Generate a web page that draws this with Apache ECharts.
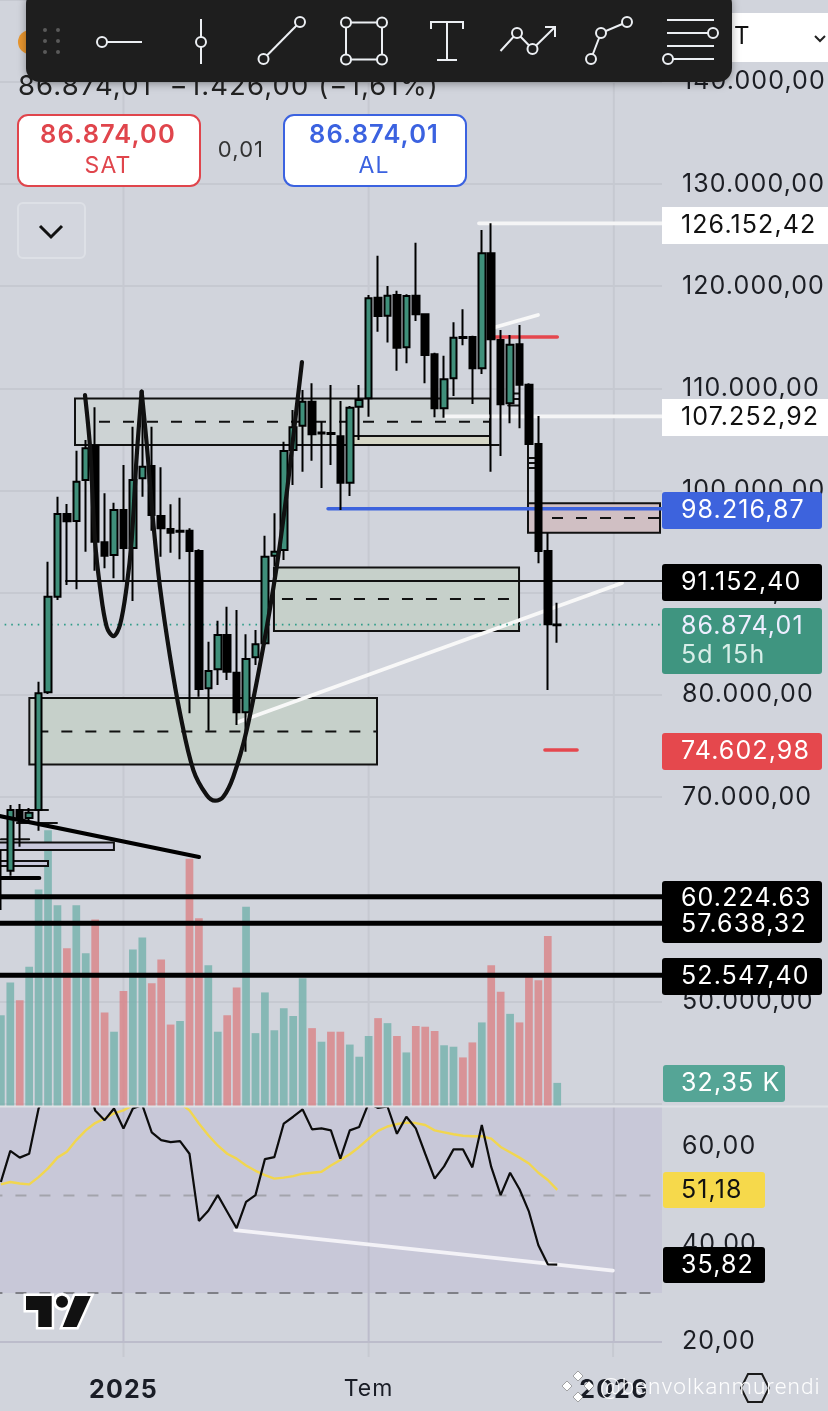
<!DOCTYPE html>
<html><head><meta charset="utf-8">
<style>html,body{margin:0;padding:0;background:#d1d4dc}#c{width:828px;height:1411px}</style>
<script src="https://cdn.jsdelivr.net/npm/echarts@6/dist/echarts.min.js"></script>
</head><body><div id="c"></div>
<script>
// the reference font runs wider than any installed one: add tracking when drawing text
(function(){const P=CanvasRenderingContext2D.prototype,f=P.fillText,s=P.strokeText;
 P.fillText=function(){this.letterSpacing='1.1px';return f.apply(this,arguments);};
 P.strokeText=function(){this.letterSpacing='1.1px';return s.apply(this,arguments);};})();

// ---- candles [open, close, low, high], weekly
const candles = [
[62000,62100,58938,64812],[62786,68727,62300,69217],[68727,67817,65136,69314],[67945,68464,67681,68923],
[68727,80150,66701,81285],[80248,89605,80081,93031],[89605,97700,89282,99393],[97700,96985,90750,98678],
[97015,100861,90329,103895],[101028,104130,94010,104943],[104385,94988,92150,108140],[94930,93618,92384,99726],
[93686,98091,91407,98806],[98091,94380,91073,102496],[94380,101028,89184,106245],[101194,102329,99393,107880],
[102398,97602,96065,106245],[97504,96300,93520,102270],[96232,95869,93912,98649],[95967,96065,93270,99295],
[96065,94078,78192,96300],[94078,80570,79817,94245],[80640,82333,76489,85200],[82500,85856,80962,87255],
[85856,82265,81452,88626],[82167,78290,77047,88303],[78290,83507,74434,85924],[83674,84946,82920,86346],
[85043,93520,84876,95576],[93618,94010,92610,97768],[94176,103866,93198,104776],[103964,106186,100538,107880],
[106343,108692,101840,109837],[108692,105500,102917,110492],[105578,105676,100245,106734],[105626,105528,102496,110326],
[105310,100763,98091,108760],[100763,108104,99462,108271],[108202,108858,104943,110326],[109024,118812,107223,119135],
[118871,117080,115543,122983],[117110,119067,114486,120017],[119135,113978,111726,119556],[114017,119038,112448,119200],
[119067,117246,116590,124254],[117246,113262,110492,117344],[113331,108046,107165,113488],[108046,110884,107125,113194],
[110982,114956,109250,116463],[115024,114926,114212,117736],[115024,111961,108466,115151],[111961,123217,111402,125498],
[123217,114799,101840,126152],[114730,108437,103378,115710],[108535,114270,106578,115221],[114310,110355,106087,116198],
[110355,104552,104552,110492],[104552,94078,92873,107292],[94078,86900,80472,95840],[86800,86874,85103,89019]
];
const volumes = [127,173,148,195,303,386,281,221,281,214,261,131,104,161,219,236,172,205,114,119,346,263,197,104,127,166,279,102,159,106,137,126,179,109,90,104,104,86,69,98,123,116,98,75,112,111,105,85,83,68,89,117,197,160,129,117,186,176,238,32.35];
const rsi = [52.8,59.2,57.8,58.6,67.9,72,73,71,72,74,67.5,65.5,67.9,63.8,67.9,68.6,63,61.4,61,61.2,58.6,44.8,46.9,50.1,46.7,43.3,48.7,50.1,57.5,57.9,64.8,66.2,67.7,63.6,63.8,63.4,57.6,63.4,64.1,69,68,68.3,62.7,66.2,63.8,58.6,53.5,56,59.5,59.5,55.8,64.5,55.9,50.1,54.7,51.3,46.7,39.8,35.9,35.82];
const rsiMA = [52.3,52.8,52.5,52.3,53.8,55.6,57.8,59,61.4,63.4,64.9,65.8,66.9,67.5,68.6,69.5,70,70.5,70,69,67.5,64.8,62.4,60.3,58.6,57.6,56.2,55.1,54.2,53.5,53.7,54,54.5,54.7,54.9,56.2,57.3,58.5,60,61.7,63.3,64.2,64.7,65,64.9,64.5,63.4,63,62.6,62.3,62.2,62.2,61.7,60,58.9,57.8,56.6,54.7,53.2,51.18];
const monthBars = [13,39,65];
const monthLabels = {13:'2025',39:'Tem',65:'2026'};

// ---- drawings on the chart: [fromBar, toBar, top, bottom, mid]
const greenZones = [[7.86,51.87,109004,104454,106729],[28.96,54.95,92463,86248,89380],[3.02,39.89,79690,73182,76412]];
const tanZone = [[37.34,51.87,105334,104454]];
const redZone = [[55.9,69.9,98747,95870,97307]];
const smallZones = [[-1,11.99,65546,64812],[-1,5,63733,63244]];
// ---- level lines [fromBar, price, toBar, price]
const thinLines = [[6.9,91152.4,71,91152.4],[51.87,104454,52.8,104454],[1.7,68727,5,68727],[1.7,67455,5.95,67455],[0,65860,3,65860],
 [55.9,104552,55.9,98747],[53.8,109500,54.95,109500],[53.8,108950,54.95,108950],[53.8,108330,54.95,108330],[55.9,103190,56.6,103190],[55.9,102700,56.6,102700],[55.9,102200,56.6,102200]];
const heavyLevels = [60224.63,57638.32,52547.40];
const whiteLines = [[50.7,126152.42,71,126152.42],[47.1,107252.92,71,107252.92],[25.15,77341,65.87,90946],[52.4,115980,56.96,117178]];
const redLines = [[52.4,115024,59,115024],[57.7,74602.98,61.1,74602.98]];
const blueLine = [34.7,98216.87,71,98216.87];
const lastPrice = 86874.01;
const blackTrend = [[-1,68300,21.01,64127],[-1,62069,4.08,62069]];
const curveLeft = [[8.92,109348],[9.45,104290],[9.98,95154],[10.51,90585],[11.22,86670],[11.93,85756],[12.63,86833],[13.34,90585],[13.87,95154],[14.4,103311],[14.93,109674]];
const curveRight = [[14.93,109674],[15.46,104618],[16.17,96785],[16.87,90585],[17.94,83733],[19,78186],[20.41,72639],[21.82,70192],[22.71,69637],[23.59,70028],[24.65,71986],[26.07,76554],[27.83,84712],[29.25,92543],[30.31,99722],[31.01,105269],[31.93,112578]];
const rsiTrend = [[24.83,42.9],[64.9,34.6]];

// ---- text
const priceHeader = '86.874,01  \u22121.426,00 (\u22121,61%)';
const sellPrice='86.874,00', buyPrice='86.874,01', spread='0,01';
const FONT='Inter', BG='#d1d4dc';
const fmtTick = v => (v/1000).toFixed(0)+'.000,00';
const XMIN=-0.0923, XMAX=70.11;

function linePairs(list){const out=[];list.forEach((s,i)=>{out.push([s[0],s[1]],[s[2],s[3]]);if(i<list.length-1)out.push([null,null]);});return out;}
function seg(data,color,width,z,extra){return Object.assign({type:'line',xAxisIndex:0,yAxisIndex:0,data,symbol:'none',silent:true,z,connectNulls:false,animation:false,
  lineStyle:{color,width,cap:'round'}},extra||{});}
function zones(data,fill,opts){opts=opts||{};return {type:'custom',xAxisIndex:0,yAxisIndex:0,z:opts.z||2,silent:true,animation:false,clip:true,
  encode:{x:[0,1],y:[2,3]},data,
  renderItem(p,api){
    const a=api.coord([api.value(0),api.value(2)]),b=api.coord([api.value(1),api.value(3)]);
    const kids=[{type:'rect',shape:{x:a[0],y:a[1],width:b[0]-a[0],height:b[1]-a[1]},style:{fill,stroke:'#111',lineWidth:opts.lw||2}}];
    if(opts.mid){const m=api.coord([api.value(0),api.value(4)]);
      kids.push({type:'line',shape:{x1:a[0]+(opts.midInset||8),y1:m[1],x2:b[0],y2:m[1]},style:{stroke:'#111',lineWidth:2,lineDash:[11,13]}});}
    return {type:'group',children:kids};
  }};}

const series=[
 {type:'bar',xAxisIndex:1,yAxisIndex:1,barWidth:7.7,z:1,silent:true,animation:false,
  data:volumes.map((v,i)=>({value:[i,v],itemStyle:{color:candles[i][1]>=candles[i][0]?'rgba(113,176,170,0.78)':'rgba(218,128,132,0.78)'}}))},
 seg([[13,40000],[13,150000],[null,null],[39,40000],[39,150000],[null,null],[65,40000],[65,150000]],'#c6c9d1',2,0),
 zones(greenZones.slice(0,1),'#cdd3d4',{mid:true,midInset:24}),
 zones(greenZones.slice(1),'#c6d0ca',{mid:true,midInset:8}),
 zones(tanZone,'#d5d6c6'),
 zones(redZone,'#d0bfc3',{mid:true,midInset:24}),
 zones(smallZones,'#c9c9dc'),
 seg(linePairs([whiteLines[0],whiteLines[1]]),'#f5f5f6',3.8,3),
 seg(linePairs([whiteLines[2],whiteLines[3]]),'#f8f8f8',3.8,3),
 seg(linePairs(redLines),'#e5474e',3.6,3),
 seg(linePairs([blueLine]),'#3d63dd',3.6,3),
 seg(linePairs(thinLines),'#111',2,3),
 seg([[-1,lastPrice],[71,lastPrice]],'#2e9c88',1.6,3,{lineStyle:{color:'#2e9c88',width:1.6,type:[1.6,5]}}),
 {type:'candlestick',xAxisIndex:0,yAxisIndex:0,barWidth:7,z:5,silent:true,animation:false,
  encode:{x:0,y:[1,2,3,4]},data:candles.map((c,i)=>[i].concat(c)),
  itemStyle:{color:'#3f8f7a',color0:'#000',borderColor:'#000',borderColor0:'#000',borderWidth:2}},
 seg(linePairs(heavyLevels.map(v=>[-1,v,71,v])),'#000',5,6,{lineStyle:{color:'#000',width:5,cap:'butt'}}),
 seg(linePairs(blackTrend),'#000',4,6),
 seg(curveLeft,'#111',4.2,7,{smooth:0.35}),
 seg(curveRight,'#111',4.2,7,{smooth:0.35}),
 // RSI
 {type:'line',xAxisIndex:2,yAxisIndex:2,data:[[-1,30],[-1,30]],symbol:'none',silent:true,animation:false,lineStyle:{width:0},z:1,
  markArea:{silent:true,animation:false,itemStyle:{color:'#c8c8d8'},data:[[{coord:[-1,30]},{coord:[71,68.2]}]]}},
 seg([[13,20],[13,68.2],[null,null],[39,20],[39,68.2],[null,null],[65,20],[65,68.2]],'#bcbccb',2,2,{xAxisIndex:2,yAxisIndex:2}),
 seg([[-1,50],[71,50]],'#a3a4ac',2,2,{xAxisIndex:2,yAxisIndex:2,lineStyle:{color:'#a3a4ac',width:2,type:[11,13]}}),
 seg([[-1,30],[71,30]],'#7f8087',2,2,{xAxisIndex:2,yAxisIndex:2,lineStyle:{color:'#7f8087',width:2,type:[11,13]}}),
 {type:'line',xAxisIndex:2,yAxisIndex:2,data:rsiMA.map((v,i)=>[i,v]),symbol:'none',silent:true,animation:false,z:3,lineStyle:{color:'#f1d64f',width:2.4}},
 seg(rsiTrend,'#f3f2f7',3.8,3,{xAxisIndex:2,yAxisIndex:2}),
 {type:'line',xAxisIndex:2,yAxisIndex:2,data:rsi.map((v,i)=>[i,v]),symbol:'none',silent:true,animation:false,z:4,lineStyle:{color:'#0c0c0c',width:2.2}}
];

const G=[];
const rect=(x,y,w,h,fill,r,stroke,lw,z)=>G.push({type:'rect',z:z||100,shape:{x,y,width:w,height:h,r:r||0},style:{fill,stroke:stroke||null,lineWidth:lw||0}});
const text=(x,y,t,o)=>G.push({type:'text',z:(o&&o.z)||101,x,y,style:Object.assign({text:t,fill:'#111',font:'400 25px '+FONT,textAlign:'left',textVerticalAlign:'middle'},o||{})});
const LBL='400 25px '+FONT;
[123.5,368.6,613.1].forEach(x=>G.push({type:'line',z:-1,shape:{x1:x,y1:1341,x2:x,y2:1357},style:{stroke:'#c6c9d1',lineWidth:2}}));
G.push({type:'line',z:8,shape:{x1:0,y1:1106.5,x2:828,y2:1106.5},style:{stroke:'#dfe1e6',lineWidth:2}});
const tags=[
 ['126.152,42','#fff','#111',662,207,166,37],['107.252,92','#fff','#111',662,399,166,37],
 ['98.216,87','#3d63dd','#fff',662,492,160,37],['91.152,40','#000','#fff',662,564,160,37],
 ['74.602,98','#e5484d','#fff',662,733,160,37],['52.547,40','#000','#fff',662,958,160,37],
 ['32,35 K','#55a596','#fff',663,1065,122,37],['51,18','#f6d94b','#111',663,1172,102,36],['35,82','#000','#fff',663,1247,102,36]];
tags.forEach(t=>{rect(t[3],t[4],t[5],t[6],t[1],t[1]==='#fff'?0:3);text(681,t[4]+t[6]/2,t[0],{fill:t[2],font:LBL});});
rect(662,881,160,62,'#000',3);
text(681,898,'60.224.63',{fill:'#fff',font:LBL});text(681,924,'57.638,32',{fill:'#fff',font:LBL});
rect(662,608,160,66,'#3f9580',3);
text(681,626,'86.874,01',{fill:'#eef',font:LBL});text(681,655,'5d 15h',{fill:'#d8eee8',font:LBL});
text(18,87,priceHeader,{font:'400 27.5px '+FONT,fill:'#222'});
rect(732,13,96,49,'#fff',0,null,0,90);
text(734,37,'T',{font:'400 24px '+FONT,z:91});
G.push({type:'polyline',z:91,shape:{points:[[815,36],[820,41],[825,36]]},style:{stroke:'#222',lineWidth:2,fill:null}});
G.push({type:'circle',z:90,shape:{cx:30,cy:42,r:12},style:{fill:'#e8962f'}});
rect(18,115,182,71,'#fff',10,'#e0454c',2);
text(108,135,sellPrice,{font:'600 25.5px '+FONT,fill:'#e0454c',textAlign:'center'});
text(108,166,'SAT',{font:'400 23px '+FONT,fill:'#e0454c',textAlign:'center'});
rect(284,115,182,71,'#fff',10,'#3b62e0',2);
text(374,135,buyPrice,{font:'600 25.5px '+FONT,fill:'#3b62e0',textAlign:'center'});
text(374,166,'AL',{font:'400 23px '+FONT,fill:'#3b62e0',textAlign:'center'});
text(241,150,spread,{font:'400 22px '+FONT,fill:'#333',textAlign:'center'});
rect(18,203,67,55,'rgba(255,255,255,0.06)',5,'#dde0e6',2);
G.push({type:'polyline',z:101,shape:{points:[[40,226],[51,237],[62,226]]},style:{stroke:'#111',lineWidth:3,fill:null}});
G.push({type:'rect',z:110,shape:{x:26,y:-10,width:706,height:92,r:14},style:{fill:'#1e1e1e',shadowBlur:8,shadowColor:'rgba(0,0,0,0.35)',shadowOffsetY:2}});
const TS={stroke:'#eceff3',lineWidth:2,fill:null};
const tl=(pts)=>G.push({type:'polyline',z:111,shape:{points:pts},style:TS});
const tc=(x,y)=>G.push({type:'circle',z:112,shape:{cx:x,cy:y,r:5},style:{fill:'#1e1e1e',stroke:'#eceff3',lineWidth:2}});
[[45,30],[58,30],[45,41],[58,41],[45,52],[58,52]].forEach(p=>G.push({type:'circle',z:111,shape:{cx:p[0],cy:p[1],r:2},style:{fill:'#5a5a5a'}}));
tl([[102,42],[142,42]]);tc(102,42);
tl([[201,19],[201,64]]);tc(201,42);
tl([[263.5,59],[300,22]]);tc(263.5,59);tc(300,22);
tl([[346,22.5],[382,22.5],[382,59.5],[346,59.5],[346,22.5]]);tc(346,22.5);tc(382,22.5);tc(346,59.5);tc(382,59.5);
tl([[431,29],[431,22],[463,22],[463,29]]);tl([[447,22],[447,60]]);tl([[437,60],[457,60]]);
tl([[500.5,51],[517,33],[532.5,49],[555,27]]);tl([[545,27],[555,27],[555,37]]);tc(517,33);tc(532.5,49);
tl([[591,59],[601,33],[627,22]]);tc(591,59);tc(601,33);tc(627,22);
tl([[667,20],[714,20]]);tl([[667,33],[713,33]]);tl([[667,46],[714,46]]);tl([[668,59],[714,59]]);tc(713,33);tc(668,59);
const logoS={fill:'#111',stroke:'#fff',lineWidth:5,lineJoin:'miter'};
const T=[[26,1296],[51.7,1296],[51.7,1327],[38.3,1327],[38.3,1310],[26,1310]],SL=[[75,1296],[90.7,1296],[76.7,1327],[62.7,1327]];
G.push({type:'polygon',z:100,shape:{points:T},style:logoS});
G.push({type:'polygon',z:100,shape:{points:SL},style:logoS});
G.push({type:'circle',z:100,shape:{cx:62,cy:1301.7,r:6.5},style:logoS});
G.push({type:'polygon',z:101,shape:{points:T},style:{fill:'#111'}});
G.push({type:'polygon',z:101,shape:{points:SL},style:{fill:'#111'}});
G.push({type:'circle',z:101,shape:{cx:62,cy:1301.7,r:6},style:{fill:'#111'}});
// watermark
text(600,1388,'@benvolkanmurendi',{font:'300 22.5px Roboto',fill:'rgba(255,255,255,0.95)',z:120});
[[578,1376],[567,1386],[589,1386],[578,1397]].forEach(p=>G.push({type:'polygon',z:120,shape:{points:[[p[0],p[1]-5],[p[0]+5,p[1]],[p[0],p[1]+5],[p[0]-5,p[1]]]},style:{fill:'#fff',stroke:'rgba(90,90,90,0.5)',lineWidth:1}}));
G.push({type:'polygon',z:119,shape:{points:[[748,1374],[762,1374],[769,1388],[762,1402],[748,1402],[741,1388]]},style:{fill:null,stroke:'#1a1a1a',lineWidth:2}});

const chart=echarts.init(document.getElementById('c'),null,{renderer:'canvas',width:828,height:1411});
const noAxis={show:false};
const xBase={type:'value',min:XMIN,max:XMAX,splitLine:noAxis};
chart.setOption({
 animation:false,backgroundColor:BG,
 grid:[{left:0,width:662,top:0,height:1103.5},{left:0,width:662,top:800,height:306},{left:0,width:662,top:1107,height:234.7}],
 xAxis:[
  Object.assign({gridIndex:0,show:false},xBase),
  Object.assign({gridIndex:1,show:false},xBase),
  Object.assign({gridIndex:2,axisLine:noAxis,axisTick:noAxis},xBase,{
   axisLabel:{show:true,customValues:monthBars,margin:36,color:'#1a1d26',fontFamily:FONT,fontSize:25,fontWeight:700,showMinLabel:true,showMaxLabel:true,hideOverlap:false,
     formatter:v=>{const t=monthLabels[Math.round(v)]||'';return t==='Tem'?'{r|Tem}':t;},rich:{r:{fontFamily:FONT,fontSize:23,fontWeight:400,color:'#1a1d26'}}}})
 ],
 yAxis:[
  {type:'value',gridIndex:0,position:'right',min:40000,max:148010,interval:10000,axisLine:noAxis,axisTick:noAxis,
   splitLine:{lineStyle:{color:'#c6c9d1',width:2}},
   axisLabel:{margin:20,color:'#1c1e24',fontFamily:FONT,fontSize:25,padding:[9,0,0,0],showMinLabel:false,showMaxLabel:false,formatter:v=>(v<50000||v%10000!==0)?'':fmtTick(v)}},
  {type:'value',gridIndex:1,show:false,min:0,max:428.4,splitLine:noAxis},
  {type:'value',gridIndex:2,position:'right',min:20,max:68.2,interval:20,axisLine:noAxis,axisTick:noAxis,
   splitLine:{lineStyle:{color:'#bcbccb',width:2}},
   axisLabel:{margin:20,color:'#1c1e24',fontFamily:FONT,fontSize:25,padding:[0,0,7,0],formatter:v=>v%20===0?v.toFixed(0)+',00':''}}
 ],
 series,graphic:{elements:G}
});
</script></body></html>
